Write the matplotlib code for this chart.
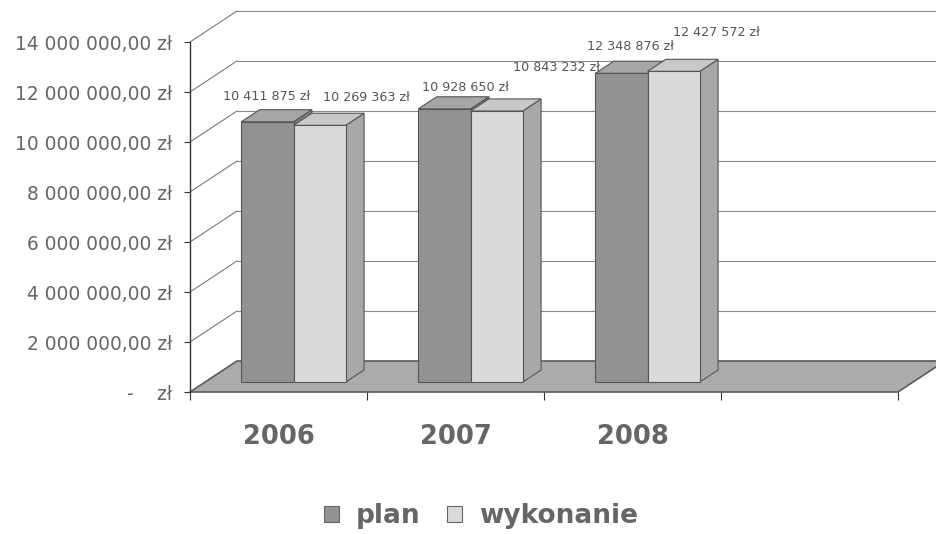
import matplotlib
matplotlib.use("Agg")
import matplotlib.pyplot as plt
from matplotlib.patches import Polygon, Patch

# ---- data ----
years = ["2006", "2007", "2008"]
n_slots = 4  # category slots on the axis (last one empty)
plan = [10411875, 10928650, 12348876]
wykonanie = [10269363, 10843232, 12427572]
series_names = ["plan", "wykonanie"]
y_ticks = [0, 2000000, 4000000, 6000000, 8000000, 10000000, 12000000, 14000000]

# ---- style / geometry ----
W, H = 936, 534
DX = 0.2655          # wall depth, category units
DY = 1.24e6          # wall depth, value units
Z0, Z1 = 0.32, 0.71  # bar depth range (fraction of wall depth)
BW = 0.295           # bar width, category units
front_col = ["#929292", "#dadada"]
top_col = ["#a6a6a6", "#c8c8c8"]
side_col = ["#808080", "#a8a8a8"]
edge = "#555555"
txt = "#666666"
# label offsets in pixels (from bar front-top centre)
lab_off = [[(-1, 25), (21, 21), (9, 27)], [(47, 28), (60, 43), (43, 39)]]

fig = plt.figure(figsize=(W / 100, H / 100), dpi=100)
ax = fig.add_axes([190 / W, (H - 392) / H, 746 / W, 392 / H])
ax.set_xlim(0, 746 / 177)
ax.set_ylim(0, 392 / 25 * 1e6)
ax.patch.set_alpha(0)

# back wall grid lines + diagonals
for v in y_ticks[1:]:
    ax.plot([0, DX], [v, v + DY], color="#7a7a7a", lw=0.8, zorder=1)
    ax.plot([DX, 10], [v + DY, v + DY], color="#8a8a8a", lw=0.8, zorder=1)

# floor
floor = Polygon([(0, 0), (n_slots, 0), (n_slots + DX, DY), (DX, DY)],
                closed=True, facecolor="#ababab", edgecolor="#5a5a5a", lw=1.2,
                zorder=2, clip_on=False)
ax.add_patch(floor)


def bar3d(xl, v, s):
    xr = xl + BW
    front = [(xl + Z0 * DX, Z0 * DY), (xr + Z0 * DX, Z0 * DY),
             (xr + Z0 * DX, v + Z0 * DY), (xl + Z0 * DX, v + Z0 * DY)]
    top = [(xl + Z0 * DX, v + Z0 * DY), (xr + Z0 * DX, v + Z0 * DY),
           (xr + Z1 * DX, v + Z1 * DY), (xl + Z1 * DX, v + Z1 * DY)]
    side = [(xr + Z0 * DX, Z0 * DY), (xr + Z1 * DX, Z1 * DY),
            (xr + Z1 * DX, v + Z1 * DY), (xr + Z0 * DX, v + Z0 * DY)]
    for pts, c in ((side, side_col[s]), (top, top_col[s]), (front, front_col[s])):
        ax.add_patch(Polygon(pts, closed=True, facecolor=c, edgecolor=edge,
                             lw=0.8, zorder=3))
    return (xl + xr) / 2 + Z0 * DX, v + Z0 * DY


for i in range(len(years)):
    for s, vals in enumerate([plan, wykonanie]):
        xl = i + 0.5 - BW + s * BW
        cx, cy = bar3d(xl, vals[i], s)
        label = f"{vals[i]:,.0f}".replace(",", " ") + " zł"
        ax.annotate(label, (cx, cy), xytext=lab_off[s][i],
                    textcoords="offset pixels", ha="center", va="center",
                    fontsize=9.2, color="#555555", zorder=5,
                    annotation_clip=False)

# axes styling
for sp in ["top", "right", "bottom"]:
    ax.spines[sp].set_visible(False)
ax.spines["left"].set_bounds(0, y_ticks[-1])
ax.spines["left"].set_color("#333333")
ax.spines["left"].set_linewidth(1.0)
ax.spines["left"].set_zorder(4)


def fmt(v):
    if v == 0:
        return "-    zł"
    return f"{v:,.2f}".replace(",", " ").replace(".", ",") + " zł"


ax.set_yticks(y_ticks)
ax.set_yticklabels([fmt(v) for v in y_ticks])
ax.tick_params(axis="y", length=4, width=0.8, color="#333333", pad=9,
               labelsize=13.4, labelcolor=txt)

ax.set_xticks(range(n_slots + 1))
ax.set_xticklabels([])
ax.set_xticks([i + 0.5 for i in range(len(years))], minor=True)
ax.set_xticklabels(years, minor=True)
ax.tick_params(axis="x", which="major", length=6, width=0.8, color="#333333",
               direction="out")
ax.tick_params(axis="x", which="minor", length=0, pad=23, labelsize=18.5,
               labelcolor=txt)
for t in ax.get_xticklabels(minor=True):
    t.set_fontweight("bold")

handles = [Patch(facecolor=front_col[s], edgecolor="#666666", lw=0.8)
           for s in range(2)]
leg = fig.legend(handles, series_names, loc="center",
                 bbox_to_anchor=(481 / W, 1 - 516 / H), ncol=2, frameon=False,
                 prop={"size": 19, "weight": "bold"}, handlelength=0.55,
                 handleheight=0.55, handletextpad=0.65, columnspacing=1.0)
for t in leg.get_texts():
    t.set_color(txt)

fig.savefig("out.png", dpi=100)
